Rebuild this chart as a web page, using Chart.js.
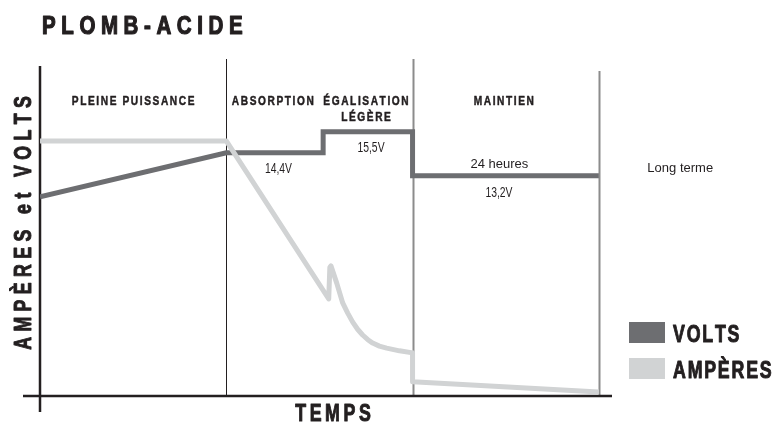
<!DOCTYPE html>
<html lang="fr">
<head>
<meta charset="utf-8">
<title>Plomb-acide</title>
<script src="https://cdn.jsdelivr.net/npm/chart.js@4.4.1/dist/chart.umd.min.js"></script>
<style>
  html, body { margin: 0; padding: 0; background: #fff; }
  #cadre { width: 776px; height: 423px; }
</style>
</head>
<body>
<div id="cadre"><canvas id="graphique" width="776" height="423"></canvas></div>
<script>
// Phases de charge, temps en unités relatives
const phases = ['PLEINE PUISSANCE', 'ABSORPTION', 'ÉGALISATION\nLÉGÈRE', 'MAINTIEN'];
const centresPhases = [0.5, 1.25, 1.75, 2.49];
const bornesPhases = [1, 2, 3];

// Tension (V)
const tempsVolts = [0, 1, 1.52, 1.52, 2, 2, 3];
const volts = [12.1, 14.4, 14.4, 15.5, 15.5, 13.2, 13.2];

// Courant (échelle relative)
const tempsAmperes = [0, 1, 1.55, 1.556, 1.562, 1.593, 1.625, 1.652, 1.678, 1.705, 1.732, 1.76, 1.786, 1.822, 1.861, 1.93, 2, 2, 3];
const amperes = [75.7, 75.7, 28.8, 38.2, 38.6, 33.5, 27.6, 24.6, 22.0, 19.8, 18.1, 16.7, 15.7, 14.8, 14.2, 13.4, 12.8, 4.2, 1.2];

const GRIS_FONCE = '#6d6e71';
const GRIS_CLAIR = '#d1d3d4';
const NOIR = '#231f20';
const POLICE = "'Liberation Sans', Arial, sans-serif";

const enVolts = v => v.toFixed(1).replace('.', ',') + 'V';

// Texte espacé, resserré horizontalement (sx), épaissi par un trait (gras)
function texteEspace(ctx, texte, x, y, espace, align, sx = 1, gras = 0) {
  const chars = [...texte];
  const largeurs = chars.map(c => ctx.measureText(c).width * sx);
  const total = largeurs.reduce((a, b) => a + b, 0) + espace * (chars.length - 1);
  let cx = align === 'center' ? x - total / 2 : (align === 'right' ? x - total : x);
  ctx.textAlign = 'left';
  chars.forEach((c, i) => {
    ctx.save();
    ctx.translate(cx, y);
    ctx.scale(sx, 1);
    ctx.fillText(c, 0, 0);
    if (gras) {
      ctx.strokeStyle = ctx.fillStyle;
      ctx.lineWidth = gras;
      ctx.lineJoin = 'round';
      ctx.strokeText(c, 0, 0);
    }
    ctx.restore();
    cx += largeurs[i] + espace;
  });
}

// Axes et séparateurs de phases
const decor = {
  id: 'decor',
  beforeDatasetsDraw(chart) {
    const { ctx, chartArea, scales } = chart;
    const x = scales.x;
    const y0 = scales.yA.getPixelForValue(0);
    const x0 = x.getPixelForValue(0);
    ctx.save();
    bornesPhases.forEach((b, i) => {
      const px = Math.round(x.getPixelForValue(b)) + 0.5;
      ctx.strokeStyle = i === 0 ? NOIR : '#8c8c8c';
      ctx.lineWidth = i === 0 ? 1 : 2;
      ctx.beginPath();
      ctx.moveTo(px, i === 2 ? chartArea.top + 12 : chartArea.top);
      ctx.lineTo(px, y0);
      ctx.stroke();
    });
    ctx.strokeStyle = NOIR;
    ctx.lineWidth = 2.5;
    ctx.beginPath();
    ctx.moveTo(x0 - 17, y0);
    ctx.lineTo(chartArea.right + 2, y0);
    ctx.moveTo(x0, chartArea.top + 7);
    ctx.lineTo(x0, y0 + 16);
    ctx.stroke();
    ctx.restore();
  },
  afterDraw(chart) {
    const { ctx, scales } = chart;
    const x = scales.x, yV = scales.yV;
    ctx.save();
    ctx.fillStyle = NOIR;
    ctx.textBaseline = 'alphabetic';

    // Titre
    ctx.font = 'bold 25px ' + POLICE;
    texteEspace(ctx, 'PLOMB-ACIDE', 42, 34, 5.6, 'left', 0.82, 1.2);

    // Noms des phases
    ctx.font = 'bold 13px ' + POLICE;
    phases.forEach((p, i) => {
      p.split('\n').forEach((ligne, j) => {
        texteEspace(ctx, ligne, x.getPixelForValue(centresPhases[i]), 105 + j * 16, 1.6, 'center', 0.78, 0.5);
      });
    });

    // Valeurs de tension
    ctx.font = '14px ' + POLICE;
    texteEspace(ctx, enVolts(volts[1]), x.getPixelForValue(1.28), yV.getPixelForValue(volts[1]) + 20, 0, 'center', 0.74);
    texteEspace(ctx, enVolts(volts[3]), x.getPixelForValue(1.777), yV.getPixelForValue(volts[3]) + 20, 0, 'center', 0.74);
    texteEspace(ctx, enVolts(volts[5]), x.getPixelForValue(2.464), yV.getPixelForValue(volts[5]) + 21, 0, 'center', 0.74);

    ctx.font = '13px ' + POLICE;
    texteEspace(ctx, '24 heures', x.getPixelForValue(2.466), yV.getPixelForValue(volts[5]) - 8, 0, 'center');
    texteEspace(ctx, 'Long terme', x.getPixelForValue(3.437), 172, 0, 'center');

    // Titres d'axes
    ctx.font = 'bold 24px ' + POLICE;
    texteEspace(ctx, 'TEMPS', 333, 421, 3.6, 'center', 0.74, 1);
    ctx.save();
    ctx.translate(31, 223);
    ctx.rotate(-Math.PI / 2);
    texteEspace(ctx, 'AMPÈRES et VOLTS', 0, 0, 5.4, 'center', 0.74, 1);
    ctx.restore();

    // Légende
    chart.data.datasets.forEach((ds, i) => {
      const top = 322 + i * 36;
      ctx.fillStyle = ds.borderColor;
      ctx.fillRect(629, top, 36, 21);
      ctx.fillStyle = NOIR;
      ctx.font = 'bold 24px ' + POLICE;
      texteEspace(ctx, ds.label, 673, top + 20, 1.8, 'left', 0.74, 1);
    });
    ctx.restore();
  }
};

new Chart(document.getElementById('graphique'), {
  type: 'line',
  data: {
    datasets: [
      {
        label: 'VOLTS',
        data: tempsVolts.map((t, i) => ({ x: t, y: volts[i] })),
        yAxisID: 'yV',
        borderColor: GRIS_FONCE,
        borderWidth: 5,
        borderJoinStyle: 'miter',
        pointRadius: 0,
        order: 1
      },
      {
        label: 'AMPÈRES',
        data: tempsAmperes.map((t, i) => ({ x: t, y: amperes[i] })),
        yAxisID: 'yA',
        borderColor: GRIS_CLAIR,
        borderWidth: 5,
        borderJoinStyle: 'round',
        pointRadius: 0,
        order: 0
      }
    ]
  },
  options: {
    responsive: false,
    animation: false,
    devicePixelRatio: 1,
    layout: { padding: { left: 40, right: 166, top: 59, bottom: 27 } },
    scales: {
      x: { type: 'linear', min: 0, max: 3.06, display: false },
      yV: { type: 'linear', min: 1.7, max: 19.3, display: false },
      yA: { type: 'linear', min: 0, max: 100, display: false }
    },
    plugins: {
      legend: { display: false },
      tooltip: { enabled: false }
    }
  },
  plugins: [decor]
});
</script>
</body>
</html>
